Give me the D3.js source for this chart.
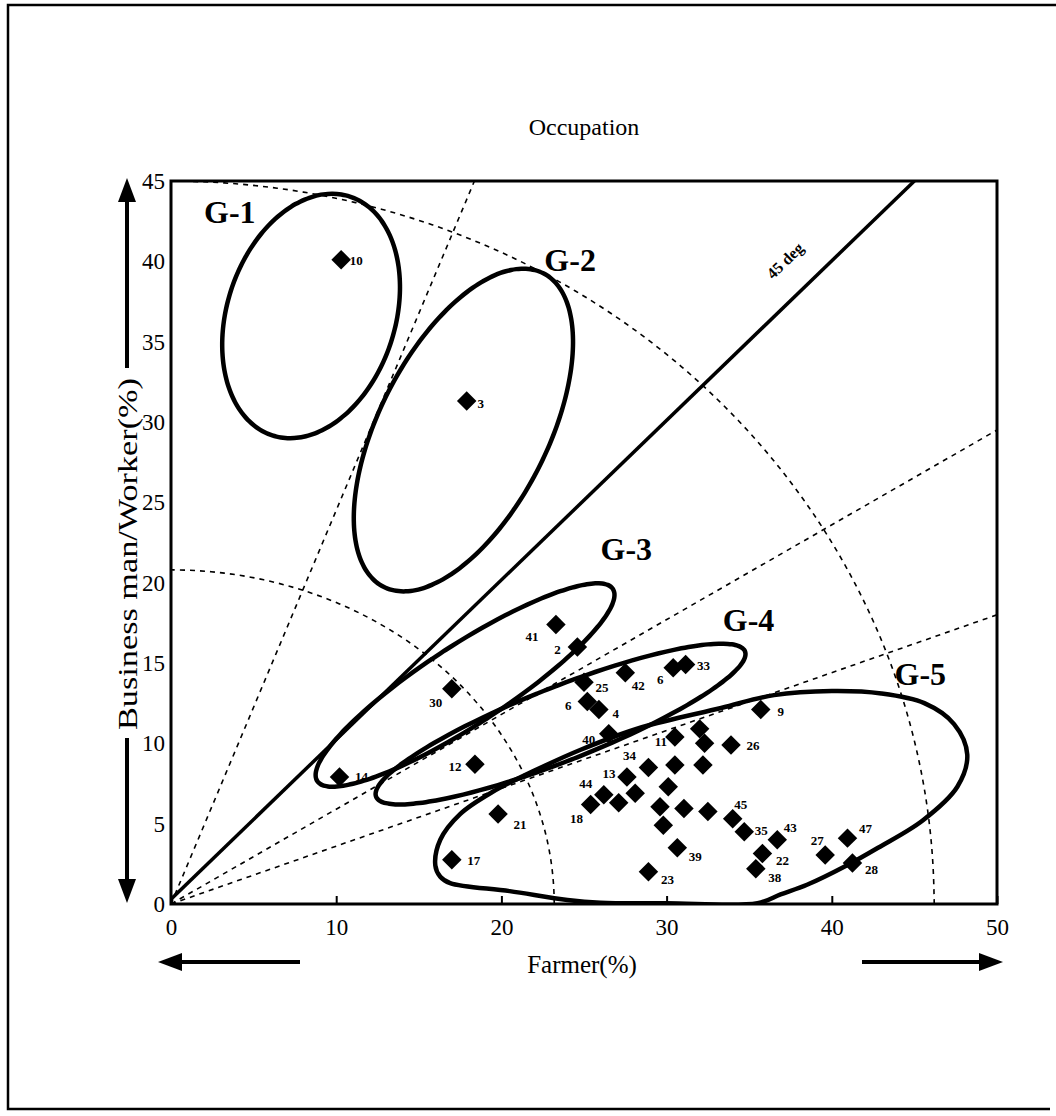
<!DOCTYPE html>
<html>
<head>
<meta charset="utf-8">
<script src="https://cdn.jsdelivr.net/npm/d3@7"></script>
<style>
  body { margin: 0; background: #fff; }
  text { font-family: "Liberation Serif", "Times New Roman", serif; }
</style>
</head>
<body>
<div id="chart"></div>
<script>
// ---- data ----
var title = "Occupation";
var xTitle = "Farmer(%)";
var yTitle = "Business man/Worker(%)";
var xTicks = [0, 10, 20, 30, 40, 50];
var yTicks = [0, 5, 10, 15, 20, 25, 30, 35, 40, 45];

var farmer   = [10.3, 17.9, 23.3, 24.6, 17.0, 10.2, 18.4, 25.0, 27.5, 30.4, 31.15, 25.2, 25.9, 26.5, 30.5, 32.0, 32.3, 33.9, 28.9, 30.5, 32.2, 27.6, 28.1, 26.2, 25.4, 27.1, 30.1, 29.6, 29.8, 31.05, 32.5, 34.0, 34.7, 36.7, 35.8, 35.4, 39.6, 40.95, 41.25, 30.65, 28.9, 19.8, 17.0, 35.7];
var business = [40.1, 31.3, 17.4, 16.0, 13.4,  7.9,  8.7, 13.8, 14.4, 14.7, 14.9,  12.6, 12.1, 10.6, 10.4, 10.9, 10.0,  9.9,  8.5,  8.65, 8.65, 7.9,  6.9,  6.8,  6.2,  6.3,  7.3,  6.05, 4.9,  5.95,  5.75, 5.3,  4.5,  4.0,  3.15, 2.2,  3.05, 4.1,   2.55,  3.5,   2.0,  5.6,  2.75, 12.1];
var ids      = ["10", "3", "41", "2", "30", "14", "12", "25", "42", "6", "33", "6", "4", "40", "11", "", "", "26", "34", "", "", "13", "", "44", "18", "", "", "", "", "", "", "45", "35", "43", "22", "38", "27", "47", "28", "39", "23", "21", "17", "9"];

// label placement relative to each marker (px)
var labelOffset = [[15,1],[14,2],[-24,12],[-20,3],[-16,14],[22,-1],[-20,2],[18,5],[13,13],[-13,12],[18,1],[-19,4],[17,4],[-20,6],[-14,5],[0,0],[0,0],[22,1],[-19,-12],[0,0],[0,0],[-18,-4],[0,0],[-18,-11],[-14,14],[0,0],[0,0],[0,0],[0,0],[0,0],[0,0],[8,-14],[17,-1],[13,-12],[20,7],[19,9],[-8,-15],[18,-10],[19,6],[18,9],[19,8],[22,10],[22,1],[20,2]];

// groups G-1..G-4 as tilted ellipses (centre in data units, semi-axes in Farmer units, tilt in degrees)
var groupNames   = ["G-1", "G-2", "G-3", "G-4", "G-5"];
var groupLabelAt = [[2.0, 42.4], [22.6, 39.4], [26.0, 21.4], [33.4, 17.0], [43.8, 13.6]];
var ellCenter = [[8.48, 36.6], [17.7, 29.5], [17.8, 13.63], [23.58, 11.2]];
var ellAxes   = [[7.6, 5.09], [10.65, 5.1], [10.67, 2.42], [12.0, 2.24]];
var ellTilt   = [72, 63, 33, 21.5];
// G-5 is an irregular loop
var g5 = [[16.0,2.4],[16.3,4.0],[17.5,5.6],[19.5,7.0],[22.0,8.3],[24.8,9.6],[28.5,11.0],[33.3,12.2],[36.5,13.0],[40.0,13.25],[43.0,13.1],[45.6,12.5],[47.4,11.2],[48.2,9.3],[47.6,7.3],[45.5,5.2],[42.8,3.5],[40.9,2.4],[38.5,1.2],[36.9,0.6],[35.5,0.05],[30,0.05],[26.0,0.08],[24.0,0.25],[20.5,0.8],[16.9,1.3],[16.3,1.7]];

// guide lines from the origin
var raySlopes = [2.45, 0.59, 0.36];
var arcRadii = [[23.2, 20.8], [46.2, 45]];
var diagonalLabel = "45 deg";

// ---- drawing ----
var W = 1056, H = 1116;
var svg = d3.select("#chart").append("svg")
  .attr("width", W).attr("height", H);

svg.append("rect").attr("width", W).attr("height", H).attr("fill", "#fff");

// page border (left, top, bottom)
svg.append("path")
  .attr("d", "M1056,5 H8 V1109 H1050")
  .attr("fill", "none").attr("stroke", "#000").attr("stroke-width", 2.5);

var x = d3.scaleLinear().domain([0, 50]).range([171, 997]);
var y = d3.scaleLinear().domain([0, 45]).range([904, 181]);

var plot = svg.append("g");
svg.append("defs").append("clipPath").attr("id", "plotclip")
  .append("rect")
  .attr("x", x(0)).attr("y", y(45))
  .attr("width", x(50) - x(0)).attr("height", y(0) - y(45));

var inner = plot.append("g").attr("clip-path", "url(#plotclip)");
var lineXY = d3.line().x(function (d) { return x(d[0]); }).y(function (d) { return y(d[1]); });

// dashed arcs
arcRadii.forEach(function (r) {
  var pts = d3.range(0, 91, 2).map(function (a) {
    var t = a * Math.PI / 180;
    return [r[0] * Math.cos(t), r[1] * Math.sin(t)];
  });
  inner.append("path")
    .attr("d", lineXY.curve(d3.curveBasis)(pts))
    .attr("fill", "none").attr("stroke", "#000")
    .attr("stroke-width", 1.6).attr("stroke-dasharray", "5,5");
});

// dashed rays
raySlopes.forEach(function (s) {
  var xe = Math.min(50, 45 / s);
  inner.append("line")
    .attr("x1", x(0)).attr("y1", y(0))
    .attr("x2", x(xe)).attr("y2", y(xe * s))
    .attr("stroke", "#000").attr("stroke-width", 1.6)
    .attr("stroke-dasharray", "5,5");
});

// solid 45 degree line
inner.append("line")
  .attr("x1", x(0)).attr("y1", y(0.3))
  .attr("x2", x(45)).attr("y2", y(45))
  .attr("stroke", "#000").attr("stroke-width", 3.5);

var ang = Math.atan2(y(0) - y(1), x(1) - x(0)) * 180 / Math.PI;
plot.append("text")
  .attr("transform", "translate(" + x(37.4) + "," + y(39.8) + ") rotate(" + (-ang) + ")")
  .attr("text-anchor", "middle")
  .attr("font-size", 16).attr("font-weight", "bold")
  .text(diagonalLabel);

// ellipses G-1..G-4
var unit = x(1) - x(0);
ellCenter.forEach(function (c, i) {
  var cx = x(c[0]), cy = y(c[1]);
  var a = ellAxes[i][0] * unit, b = ellAxes[i][1] * unit;
  var t = ellTilt[i] * Math.PI / 180;
  var pts = d3.range(0, 360, 3).map(function (deg) {
    var p = deg * Math.PI / 180;
    var u = a * Math.cos(p), v = b * Math.sin(p);
    return [cx + u * Math.cos(t) - v * Math.sin(t), cy - (u * Math.sin(t) + v * Math.cos(t))];
  });
  inner.append("path")
    .attr("d", d3.line().curve(d3.curveCardinalClosed)(pts))
    .attr("fill", "none").attr("stroke", "#000")
    .attr("stroke-width", 4.5);
});

// irregular G-5 loop
inner.append("path")
  .attr("d", lineXY.curve(d3.curveCatmullRomClosed.alpha(0.5))(g5))
  .attr("fill", "none").attr("stroke", "#000")
  .attr("stroke-width", 4.5).attr("stroke-linejoin", "round");

groupNames.forEach(function (n, i) {
  plot.append("text")
    .attr("x", x(groupLabelAt[i][0])).attr("y", y(groupLabelAt[i][1]))
    .attr("font-size", 32).attr("font-weight", "bold")
    .text(n);
});

// markers
var diamond = d3.symbol().type(d3.symbolSquare).size(190);
farmer.forEach(function (f, i) {
  plot.append("path")
    .attr("d", diamond())
    .attr("transform", "translate(" + x(f) + "," + y(business[i]) + ") rotate(45)")
    .attr("fill", "#000");
  if (ids[i]) {
    plot.append("text")
      .attr("x", x(f) + labelOffset[i][0]).attr("y", y(business[i]) + labelOffset[i][1])
      .attr("text-anchor", "middle").attr("dy", "0.35em")
      .attr("font-size", 13).attr("font-weight", "bold")
      .text(ids[i]);
  }
});

// frame
plot.append("rect")
  .attr("x", x(0)).attr("y", y(45))
  .attr("width", x(50) - x(0)).attr("height", y(0) - y(45))
  .attr("fill", "none").attr("stroke", "#000").attr("stroke-width", 3);

// axes
var xAxis = plot.append("g")
  .attr("transform", "translate(0," + y(0) + ")")
  .call(d3.axisBottom(x).tickValues(xTicks).tickSize(-8).tickPadding(15));
xAxis.select(".domain").remove();
xAxis.selectAll("line").attr("stroke-width", 2);
xAxis.selectAll("text").attr("font-size", 23).attr("fill", "#000")
  .style("font-family", "'Liberation Serif', serif");

var yAxis = plot.append("g")
  .attr("transform", "translate(" + x(0) + ",0)")
  .call(d3.axisLeft(y).tickValues(yTicks).tickSize(0).tickPadding(6));
yAxis.select(".domain").remove();
yAxis.selectAll("text").attr("font-size", 23).attr("fill", "#000")
  .style("font-family", "'Liberation Serif', serif");

// titles
svg.append("text")
  .attr("x", (x(0) + x(50)) / 2).attr("y", 135)
  .attr("text-anchor", "middle").attr("font-size", 24)
  .text(title);

svg.append("text")
  .attr("x", (x(0) + x(50)) / 2 - 2).attr("y", 973)
  .attr("text-anchor", "middle").attr("font-size", 25)
  .text(xTitle);

svg.append("text")
  .attr("transform", "translate(137," + 554 + ") rotate(-90)")
  .attr("text-anchor", "middle").attr("font-size", 28)
  .attr("textLength", 352).attr("lengthAdjust", "spacingAndGlyphs")
  .text(yTitle);

// direction arrows
function arrow(x1, y1, x2, y2) {
  var a = Math.atan2(y2 - y1, x2 - x1);
  var L = 24, w = 9;
  var bx = x2 - L * Math.cos(a), by = y2 - L * Math.sin(a);
  svg.append("line")
    .attr("x1", x1).attr("y1", y1).attr("x2", bx).attr("y2", by)
    .attr("stroke", "#000").attr("stroke-width", 4);
  svg.append("path")
    .attr("d", "M" + x2 + "," + y2 +
      "L" + (bx + w * Math.sin(a)) + "," + (by - w * Math.cos(a)) +
      "L" + (bx - w * Math.sin(a)) + "," + (by + w * Math.cos(a)) + "Z")
    .attr("fill", "#000");
}
arrow(127, 368, 127, 178);
arrow(127, 738, 127, 903);
arrow(300, 962, 158, 962);
arrow(862, 962, 1003, 962);
</script>
</body>
</html>
